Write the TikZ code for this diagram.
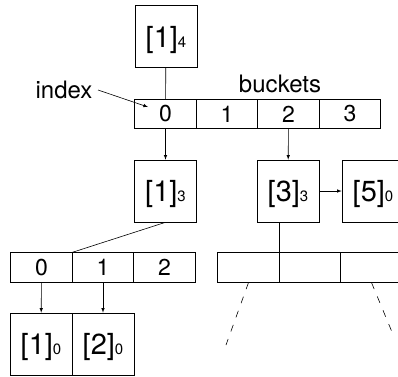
\documentclass[tikz,border=0pt]{standalone}
\usepackage{fontspec}
\setmainfont{TeX Gyre Heros}
\usepackage{tikz}
\usetikzlibrary{arrows}
\usetikzlibrary{positioning}

\newcommand{\lvl}[1]{{\fontsize{15}{15}\selectfont #1}}

\begin{document}
\begin{tikzpicture}[x=1pt, y=-1pt, line width=0.6pt,
  trie/.style={rectangle, draw=black, minimum width=62pt, minimum height=62pt, inner sep=0pt, text height=24pt, text depth=3pt, font=\fontsize{29}{29}\selectfont},
  slot/.style={rectangle, draw=black, minimum width=61.5pt, minimum height=29.5pt, inner sep=0pt, font=\fontsize{23}{23}\selectfont},
  tag/.style={font=\fontsize{24}{24}\selectfont}]
\useasboundingbox (0, 0) rectangle (398, 376);
\clip (0, 0) rectangle (398, 376);

\node [trie] (T14) at (166, 36.5) {[1]\lvl{4}};

\node [tag] (index) at (64, 90) {index};
\node [tag] (buckets) at (280, 84) {buckets};
\node [slot] (B0) at (165.5, 114) {0};
\node [slot] (B1) at (227, 114) {1};
\node [slot] (B2) at (288.5, 114) {2};
\node [slot] (B3) at (350, 114) {3};
\coordinate (ptr) at (148, 107);

\node [trie] (T13) at (165.5, 191) {[1]\lvl{3}};
\node [trie] (T33) at (288, 191) {[3]\lvl{3}};
\node [trie] (T50) at (373, 191) {[5]\lvl{0}};

\node [slot] (L0) at (41.5, 267.5) {0};
\node [slot] (L1) at (103, 267.5) {1};
\node [slot] (L2) at (164.5, 267.5) {2};

\node [slot] (R0) at (248.5, 267.5) {};
\node [slot] (R1) at (310, 267.5) {};
\node [slot] (R2) at (371.5, 267.5) {};

\node [trie] (T10) at (41, 344) {[1]\lvl{0}};
\node [trie] (T20) at (103, 344) {[2]\lvl{0}};
\coordinate (farL) at (226, 345);
\coordinate (farR) at (392, 332);

\draw (T14) to (B0);
\draw [-latex] ([xshift=2pt]index.east) to (ptr);
\draw [-latex] (B0) to (T13);
\draw [-latex] (B2) to (T33);
\draw [-latex] (T33) to (T50);
\draw (T13.south) to (L1.north west);
\draw (R1.north west) to (R1.north west |- T33.south);
\draw [-latex] (L0) to (T10);
\draw [-latex] (L1) to (T20);
\draw [dash pattern=on 7pt off 8pt] (R0.south) to (farL);
\draw [dash pattern=on 7pt off 8pt] (R2.south) to (farR);
\end{tikzpicture}
\end{document}
